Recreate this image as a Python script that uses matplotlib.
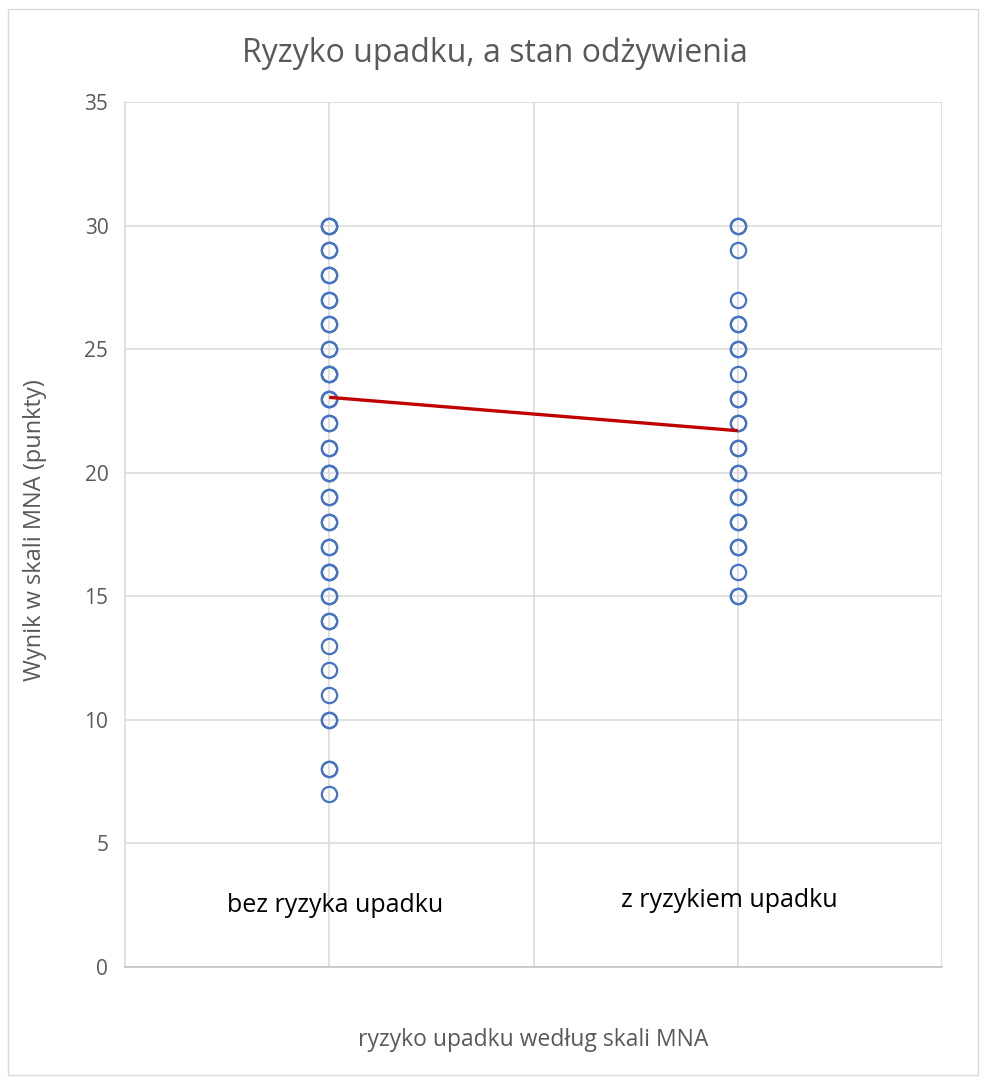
import matplotlib
matplotlib.use("Agg")
import matplotlib.pyplot as plt
from matplotlib.patches import Rectangle

plt.rcParams['font.family'] = ['Open Sans', 'DejaVu Sans']

# ---- data ----
# MNA score and how many patients share it (overlapping rings)
bez_scores = [30, 29, 28, 27, 26, 25, 24, 23, 22, 21, 20, 19, 18, 17, 16, 15, 14, 13, 12, 11, 10, 8, 7]
bez_counts = [3, 2, 2, 2, 2, 2, 3, 3, 2, 2, 3, 2, 2, 2, 3, 2, 2, 1, 1, 1, 2, 2, 1]
z_scores = [30, 29, 27, 26, 25, 24, 23, 22, 21, 20, 19, 18, 17, 16, 15]
z_counts = [2, 1, 1, 2, 2, 1, 2, 2, 2, 2, 2, 2, 2, 1, 2]
group_x = [1, 3]
group_labels = ["bez ryzyka upadku", "z ryzykiem upadku"]
group_means = [23.05, 21.7]

W, H = 987, 1083
fig = plt.figure(figsize=(W/100, H/100), dpi=100)
fig.patches.append(Rectangle((8/W, 8/H), 1-17/W, 1-17/H, transform=fig.transFigure,
                             fill=False, edgecolor="#D9D9D9", lw=1))

ax = fig.add_axes([125/W, (H-967)/H, (942-125)/W, (967-102)/H])
ax.set_xlim(0, 4)
ax.set_ylim(0, 35)
ax.set_xticks([1, 2, 3, 4])
ax.set_yticks(range(0, 36, 5))
ax.grid(True, color="#D9D9D9", lw=1.1)
ax.set_axisbelow(True)
for s in ["top", "right"]:
    ax.spines[s].set_visible(False)
ax.spines["left"].set_color("#D9D9D9")
ax.spines["left"].set_linewidth(1.1)
ax.spines["bottom"].set_color("#BFBFBF")
ax.spines["bottom"].set_linewidth(1.1)
ax.tick_params(length=0, labelsize=15, labelcolor="#595959", pad=12)
ax.set_xticklabels([])

blue = "#4472C4"
for xg, scores, counts in [(group_x[0], bez_scores, bez_counts), (group_x[1], z_scores, z_counts)]:
    for v, c in zip(scores, counts):
        for _ in range(c):
            ax.plot([xg], [v], "o", ms=11, mfc="none", mec=blue, mew=1.6)

ax.plot(group_x, group_means, color="#C00000", lw=2.4, solid_capstyle="butt")

ax.text(1.03, 2.5, group_labels[0], ha="center", va="center", fontsize=18, color="black")
ax.text(2.96, 2.7, group_labels[1], ha="center", va="center", fontsize=18, color="black")

fig.text(495/W, 1-53/H, "Ryzyko upadku, a stan odżywienia", ha="center", va="center",
         fontsize=23, color="#595959")
fig.text(35/W, 1-530/H, "Wynik w skali MNA (punkty)", ha="center", va="center",
         rotation=90, fontsize=17, color="#595959")
fig.text(533/W, 1-1040/H, "ryzyko upadku według skali MNA", ha="center", va="center",
         fontsize=16.5, color="#595959")

fig.savefig("out.png", dpi=100)
